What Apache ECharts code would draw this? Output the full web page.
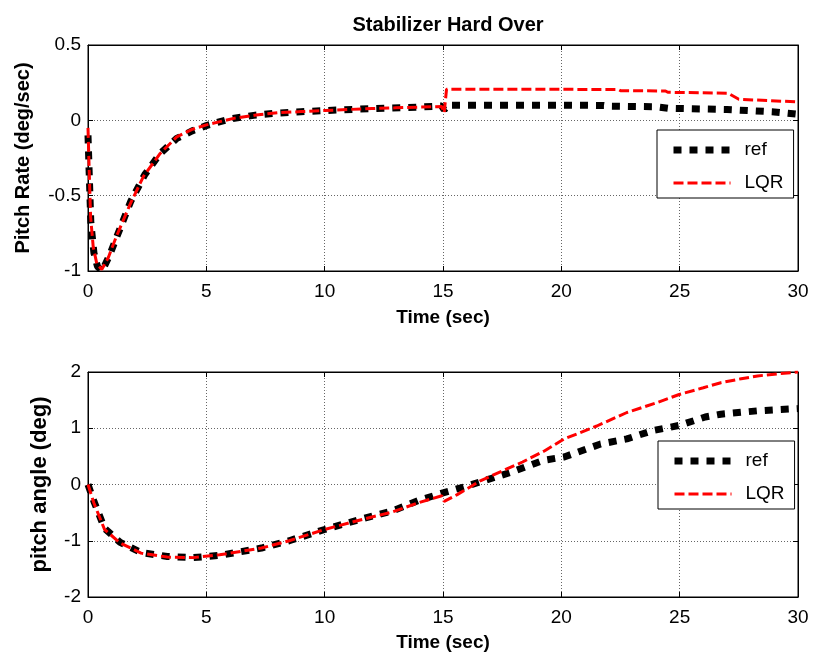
<!DOCTYPE html>
<html>
<head>
<meta charset="utf-8">
<script src="https://cdn.jsdelivr.net/npm/echarts@6/dist/echarts.min.js"></script>
<style>
  html, body { margin: 0; padding: 0; background: #fff; }
  #main { width: 815px; height: 658px; }
</style>
</head>
<body>
<div id="main"></div>
<script>
// pitch rate (top), times in sec
var refRateT = [0, 0.05, 0.12, 0.25, 0.4, 0.6, 0.9, 1.25, 1.8, 2.4, 3.05, 3.75, 4.4, 5, 6, 7, 8, 9, 10, 12, 14, 14.95, 15.05, 15.2, 20, 21.8, 22, 24, 24.5, 27, 28, 29, 30]
var refRate = [-0.1, -0.35, -0.68, -0.88, -0.97, -1.0, -0.9, -0.76, -0.54, -0.36, -0.22, -0.12, -0.07, -0.035, 0.01, 0.033, 0.048, 0.057, 0.065, 0.078, 0.088, 0.095, 0.07, 0.1, 0.1, 0.099, 0.094, 0.09, 0.08, 0.072, 0.064, 0.056, 0.04]
var lqrRateT = [0, 0.05, 0.11, 0.22, 0.37, 0.58, 0.86, 1.2, 1.8, 2.35, 3.05, 3.75, 4.4, 5, 6.15, 7.1, 8, 9, 10, 11, 12, 13, 14, 14.95, 15.05, 15.15, 22.4, 22.5, 24.4, 24.5, 27.05, 27.5, 30]
var lqrRate = [-0.05, -0.33, -0.64, -0.84, -0.95, -0.99, -0.91, -0.77, -0.55, -0.37, -0.22, -0.11, -0.06, -0.03, 0.013, 0.035, 0.05, 0.058, 0.065, 0.072, 0.078, 0.083, 0.088, 0.092, 0.05, 0.207, 0.205, 0.197, 0.195, 0.186, 0.18, 0.14, 0.122]

// pitch angle (bottom)
var refAngleT = [0, 0.25, 0.7, 1.36, 2.24, 3.35, 4.45, 5.56, 7.33, 8.5, 10, 11.5, 12.85, 14, 15, 16, 16.6, 17.9, 19.24, 20.12, 21.66, 22.77, 23.87, 24.98, 26.08, 26.74, 28.29, 30]
var refAngle = [0, -0.3, -0.78, -1.03, -1.21, -1.28, -1.3, -1.26, -1.13, -1.0, -0.8, -0.62, -0.47, -0.28, -0.15, -0.03, 0.05, 0.22, 0.43, 0.49, 0.72, 0.81, 0.96, 1.05, 1.2, 1.25, 1.31, 1.35]
var lqrAngleT = [0, 0.25, 0.7, 1.36, 2.24, 3.35, 4.45, 5.56, 7.33, 8.5, 10, 11.5, 12.85, 14, 14.95, 15.05, 15.6, 16.6, 17.5, 18.36, 19.3, 20.12, 21.5, 22.77, 24, 24.98, 26, 26.74, 27.6, 28.29, 29.2, 30]
var lqrAngle = [0, -0.33, -0.8, -1.04, -1.22, -1.29, -1.3, -1.25, -1.13, -1.0, -0.8, -0.63, -0.49, -0.32, -0.2, -0.3, -0.18, 0.07, 0.24, 0.4, 0.6, 0.81, 1.04, 1.28, 1.45, 1.6, 1.72, 1.81, 1.88, 1.93, 1.97, 2.0]

var xTicks = [0, 30, 5]
var rateTicks = [-1, 0.5, 0.5]
var angleTicks = [-2, 2, 1]

var font = '"Liberation Sans", Arial, sans-serif'

function pairs(t, v) {
  return t.map(function (x, i) { return [x, v[i]] })
}

var refStyle = { color: '#000', width: 7, type: [8, 8], cap: 'butt' }
var lqrStyle = { color: '#ff0000', width: 3, type: [10, 4], cap: 'butt' }

function mainX(grid, name, gap) {
  return {
    type: 'value', gridIndex: grid, min: xTicks[0], max: xTicks[1], interval: xTicks[2],
    name: name, nameLocation: 'middle', nameGap: gap,
    nameTextStyle: { fontFamily: font, fontSize: 19, fontWeight: 'bold', color: '#000' },
    axisLine: { show: true, onZero: false, lineStyle: { color: '#000', width: 1 } },
    axisTick: { show: true, inside: true, length: 5, lineStyle: { color: '#000' } },
    axisLabel: { fontFamily: font, fontSize: 19, color: '#000', margin: 11 },
    splitLine: { show: true, lineStyle: { color: '#666', type: [1, 2], width: 1 } }
  }
}
function mainY(grid, ticks, name, gap, size) {
  return {
    type: 'value', gridIndex: grid, min: ticks[0], max: ticks[1], interval: ticks[2],
    name: name, nameLocation: 'middle', nameGap: gap,
    nameTextStyle: { fontFamily: font, fontSize: size, fontWeight: 'bold', color: '#000' },
    axisLine: { show: true, onZero: false, lineStyle: { color: '#000', width: 1 } },
    axisTick: { show: true, inside: true, length: 5, lineStyle: { color: '#000' } },
    axisLabel: { fontFamily: font, fontSize: 19, color: '#000', margin: 7 },
    splitLine: { show: true, lineStyle: { color: '#666', type: [1, 2], width: 1 } }
  }
}
function sideX(grid) {
  return {
    type: 'value', gridIndex: grid, position: 'top', min: xTicks[0], max: xTicks[1], interval: xTicks[2],
    axisLine: { show: true, onZero: false, lineStyle: { color: '#000' } },
    axisTick: { show: true, inside: true, length: 5, lineStyle: { color: '#000' } },
    axisLabel: { show: false }, splitLine: { show: false }
  }
}
function sideY(grid, ticks) {
  return {
    type: 'value', gridIndex: grid, position: 'right', min: ticks[0], max: ticks[1], interval: ticks[2],
    axisLine: { show: true, onZero: false, lineStyle: { color: '#000' } },
    axisTick: { show: true, inside: true, length: 5, lineStyle: { color: '#000' } },
    axisLabel: { show: false }, splitLine: { show: false }
  }
}
function legendBox(left, top) {
  return {
    left: left, top: top, orient: 'vertical',
    data: [
      { name: 'ref', lineStyle: { width: 7, type: [8, 8], color: '#000', cap: 'butt' }, itemStyle: { opacity: 0 } },
      { name: 'LQR', lineStyle: { width: 3, type: [10, 4], color: '#ff0000', cap: 'butt' }, itemStyle: { opacity: 0 } }
    ],
    itemWidth: 57, itemHeight: 14, itemGap: 13,
    padding: [10, 10, 5, 13],
    borderColor: '#000', borderWidth: 1, borderRadius: 0,
    backgroundColor: '#fff',
    selectedMode: false,
    textStyle: { fontFamily: font, fontSize: 19, color: '#000', lineHeight: 20, padding: [0, 0, 0, 9] }
  }
}

var myChart = echarts.init(document.getElementById('main'), null, { renderer: 'canvas' })
var option = {
  backgroundColor: '#fff',
  animation: false,
  title: {
    text: 'Stabilizer Hard Over', left: 443, top: 10, textAlign: 'center',
    textStyle: { fontFamily: font, fontSize: 20, fontWeight: 'bold', color: '#000' }
  },
  grid: [
    { left: 88, top: 45, width: 710, height: 226, show: true, borderColor: '#000', borderWidth: 1, backgroundColor: '#fff' },
    { left: 88, top: 372, width: 710, height: 225, show: true, borderColor: '#000', borderWidth: 1, backgroundColor: '#fff' }
  ],
  legend: [legendBox(657, 130), legendBox(658, 441)],
  xAxis: [mainX(0, 'Time (sec)', 37), sideX(0), mainX(1, 'Time (sec)', 36), sideX(1)],
  yAxis: [
    mainY(0, rateTicks, 'Pitch Rate (deg/sec)', 55, 20), sideY(0, rateTicks),
    mainY(1, angleTicks, 'pitch angle (deg)', 37, 22), sideY(1, angleTicks)
  ],
  series: [
    { name: 'ref', type: 'line', xAxisIndex: 0, yAxisIndex: 0, symbol: 'none', lineStyle: refStyle, itemStyle: { color: '#000' }, data: pairs(refRateT, refRate) },
    { name: 'LQR', type: 'line', xAxisIndex: 0, yAxisIndex: 0, symbol: 'none', lineStyle: lqrStyle, itemStyle: { color: '#ff0000' }, data: pairs(lqrRateT, lqrRate) },
    { name: 'ref', type: 'line', xAxisIndex: 2, yAxisIndex: 2, symbol: 'none', lineStyle: refStyle, itemStyle: { color: '#000' }, data: pairs(refAngleT, refAngle) },
    { name: 'LQR', type: 'line', xAxisIndex: 2, yAxisIndex: 2, symbol: 'none', lineStyle: lqrStyle, itemStyle: { color: '#ff0000' }, data: pairs(lqrAngleT, lqrAngle) }
  ]
}
myChart.setOption(option)
</script>
</body>
</html>
